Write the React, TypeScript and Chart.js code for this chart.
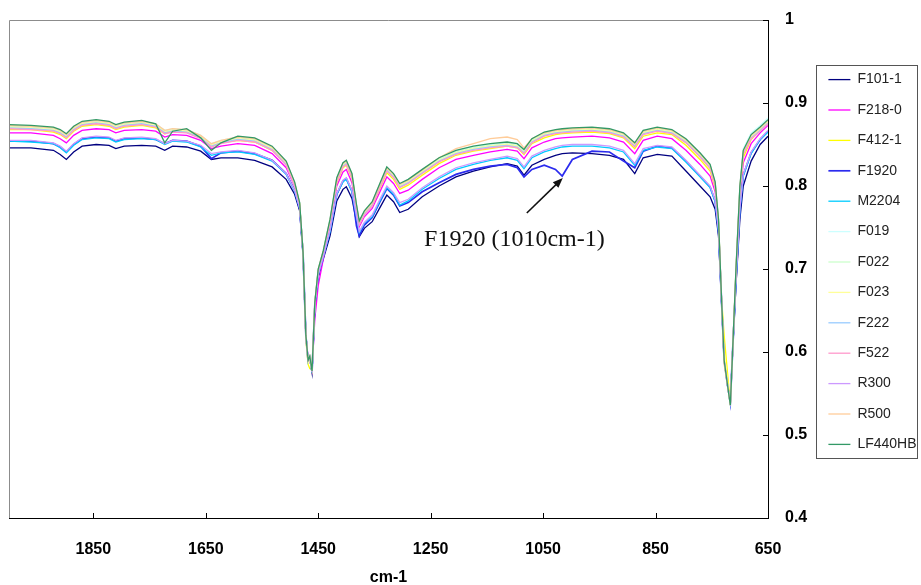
import React, { useEffect, useRef } from "react";
import { Chart, registerables } from "chart.js";

Chart.register(...registerables);

// Wavenumbers (cm-1) at which every spectrum is sampled
const WAVENUMBERS = [
  2000, 1961, 1921, 1909, 1898, 1885, 1870, 1845, 1822, 1810,
  1795, 1764, 1739, 1723, 1709, 1684, 1659, 1640, 1623, 1593,
  1563, 1532, 1507, 1492, 1483, 1477, 1472, 1468, 1465, 1461,
  1456, 1450, 1441, 1429, 1417, 1406, 1400, 1390, 1382, 1377,
  1368, 1354, 1341, 1328, 1316, 1305, 1290, 1265, 1235, 1205,
  1174, 1144, 1114, 1096, 1084, 1070, 1048, 1028, 1016, 998,
  963, 932, 907, 887, 872, 847, 821, 796, 771, 753,
  744, 738, 733, 728, 722, 717, 713, 707, 700, 694,
  680, 664, 650,
];

const F101_1 = [
  .846, .846, .843, .838, .832, .841, .848, .850, .849, .845,
  .848, .849, .848, .843, .848, .847, .842, .832, .834, .834,
  .831, .823, .808, .790, .770, .718, .620, .590, .592, .575,
  .655, .690, .712, .740, .782, .796, .799, .785, .757, .739,
  .749, .757, .773, .789, .781, .768, .772, .787, .800, .811,
  .818, .823, .827, .824, .813, .825, .832, .837, .839, .840,
  .839, .837, .832, .815, .834, .838, .836, .818, .800, .787,
  .772, .740, .665, .590, .560, .540, .600, .680, .760, .800,
  .830, .850, .860,
];
const F218_0 = [
  .864, .864, .861, .857, .852, .861, .867, .869, .868, .864,
  .867, .868, .866, .859, .862, .861, .855, .845, .848, .851,
  .849, .839, .822, .800, .776, .719, .620, .592, .590, .578,
  .640, .680, .712, .753, .800, .817, .820, .804, .771, .751,
  .763, .773, .792, .811, .803, .791, .795, .808, .822, .832,
  .837, .841, .844, .842, .833, .846, .853, .857, .858, .859,
  .860, .858, .853, .839, .855, .860, .857, .843, .826, .812,
  .793, .753, .668, .590, .560, .537, .600, .693, .786, .828,
  .851, .864, .873,
];
const F412_1 = [
  .868, .868, .865, .862, .857, .866, .872, .874, .872, .868,
  .871, .873, .870, .863, .866, .865, .858, .848, .852, .855,
  .853, .843, .826, .802, .778, .720, .615, .585, .580, .580,
  .659, .698, .720, .756, .804, .822, .825, .809, .774, .754,
  .766, .776, .796, .816, .808, .796, .801, .813, .827, .837,
  .842, .845, .848, .846, .838, .851, .858, .862, .863, .864,
  .865, .863, .858, .845, .860, .864, .862, .849, .832, .818,
  .798, .756, .669, .620, .575, .537, .600, .696, .792, .834,
  .856, .867, .876,
];
const F1920 = [
  .854, .854, .851, .847, .841, .850, .857, .859, .858, .854,
  .857, .858, .856, .851, .855, .854, .848, .833, .840, .842,
  .839, .831, .815, .795, .773, .719, .620, .589, .593, .576,
  .657, .693, .715, .746, .790, .806, .809, .794, .752, .740,
  .753, .762, .780, .797, .789, .776, .780, .793, .804, .814,
  .820, .824, .826, .822, .811, .820, .825, .820, .812, .832,
  .842, .841, .830, .822, .842, .848, .846, .830, .812, .799,
  .782, .746, .667, .590, .560, .539, .600, .686, .772, .813,
  .840, .856, .866,
];
const M2204 = [
  .854, .853, .851, .846, .840, .849, .856, .858, .857, .853,
  .856, .857, .856, .850, .854, .853, .847, .837, .840, .841,
  .838, .830, .814, .794, .773, .719, .622, .588, .593, .575,
  .656, .693, .715, .745, .790, .805, .808, .793, .763, .744,
  .755, .763, .781, .798, .790, .777, .782, .796, .809, .820,
  .826, .831, .834, .831, .821, .834, .841, .845, .847, .848,
  .848, .846, .841, .825, .843, .847, .845, .829, .811, .798,
  .781, .745, .666, .590, .560, .539, .600, .685, .771, .812,
  .839, .856, .865,
];
const F019 = [
  .873, .872, .870, .867, .862, .871, .877, .879, .877, .873,
  .876, .878, .875, .867, .869, .868, .861, .851, .855, .859,
  .857, .847, .829, .804, .780, .720, .620, .590, .595, .577,
  .660, .700, .722, .759, .809, .827, .830, .814, .777, .757,
  .769, .780, .801, .822, .814, .802, .807, .819, .833, .842,
  .847, .850, .852, .850, .843, .856, .864, .867, .868, .869,
  .870, .868, .863, .851, .866, .870, .867, .856, .839, .825,
  .804, .759, .670, .590, .560, .536, .600, .699, .799, .845,
  .864, .873, .882,
];
const F022 = [
  .872, .871, .869, .866, .861, .870, .876, .878, .876, .872,
  .875, .877, .874, .866, .868, .867, .860, .850, .854, .858,
  .856, .846, .828, .803, .779, .720, .620, .590, .595, .577,
  .660, .699, .721, .758, .808, .826, .829, .813, .776, .756,
  .768, .779, .800, .821, .813, .801, .806, .818, .832, .841,
  .846, .849, .851, .849, .842, .855, .863, .866, .867, .868,
  .869, .867, .862, .850, .865, .869, .866, .855, .838, .824,
  .803, .758, .670, .590, .560, .536, .600, .698, .798, .841,
  .860, .869, .878,
];
const F023 = [
  .871, .870, .868, .865, .860, .869, .875, .877, .875, .871,
  .874, .876, .873, .865, .867, .866, .859, .849, .853, .857,
  .855, .845, .827, .802, .778, .720, .618, .587, .590, .578,
  .659, .698, .720, .757, .807, .825, .828, .812, .775, .755,
  .767, .778, .799, .820, .812, .800, .805, .817, .831, .840,
  .845, .848, .850, .848, .841, .854, .862, .865, .866, .867,
  .868, .866, .861, .849, .864, .868, .865, .854, .837, .823,
  .802, .757, .669, .600, .565, .536, .600, .697, .797, .840,
  .859, .868, .877,
];
const F222 = [
  .870, .869, .867, .864, .859, .868, .874, .876, .874, .870,
  .873, .875, .872, .864, .866, .865, .858, .848, .852, .856,
  .854, .844, .826, .801, .777, .720, .620, .590, .594, .577,
  .659, .698, .720, .756, .806, .824, .827, .811, .774, .754,
  .766, .777, .798, .819, .811, .799, .804, .816, .830, .839,
  .844, .847, .849, .847, .840, .853, .861, .864, .865, .866,
  .867, .865, .860, .848, .863, .867, .864, .853, .836, .822,
  .801, .756, .669, .590, .560, .537, .600, .697, .796, .839,
  .858, .867, .876,
];
const F522 = [
  .869, .868, .866, .863, .858, .867, .873, .875, .873, .869,
  .872, .874, .871, .863, .865, .864, .857, .847, .851, .855,
  .853, .843, .825, .800, .776, .720, .620, .590, .594, .577,
  .659, .697, .719, .755, .805, .823, .826, .810, .773, .753,
  .765, .776, .797, .818, .810, .798, .803, .815, .829, .838,
  .843, .846, .848, .846, .839, .852, .860, .863, .864, .865,
  .866, .864, .859, .847, .862, .866, .863, .852, .835, .821,
  .800, .755, .669, .590, .560, .537, .600, .696, .795, .838,
  .857, .866, .875,
];
const R300 = [
  .855, .855, .852, .848, .842, .851, .858, .860, .859, .855,
  .858, .859, .857, .851, .855, .854, .849, .839, .841, .843,
  .840, .831, .815, .795, .773, .719, .620, .590, .593, .576,
  .657, .693, .715, .747, .791, .807, .810, .795, .764, .745,
  .756, .765, .783, .800, .792, .780, .784, .798, .811, .822,
  .828, .832, .836, .833, .823, .836, .843, .847, .849, .850,
  .850, .848, .843, .827, .845, .849, .847, .831, .813, .800,
  .783, .747, .667, .590, .560, .539, .600, .687, .773, .814,
  .841, .857, .867,
];
const R500 = [
  .873, .872, .870, .867, .862, .871, .877, .879, .877, .873,
  .876, .878, .875, .867, .869, .868, .861, .851, .855, .859,
  .857, .847, .829, .804, .779, .720, .620, .590, .595, .577,
  .660, .700, .722, .759, .809, .827, .830, .814, .777, .757,
  .769, .780, .801, .822, .814, .802, .807, .819, .834, .845,
  .851, .857, .859, .856, .846, .857, .864, .867, .868, .869,
  .870, .868, .863, .851, .866, .870, .867, .856, .839, .825,
  .804, .759, .670, .585, .560, .536, .600, .699, .799, .842,
  .861, .870, .879,
];
const LF440HB = [
  .874, .873, .871, .868, .863, .872, .878, .880, .878, .874,
  .877, .879, .875, .852, .866, .869, .858, .843, .852, .860,
  .858, .848, .830, .805, .780, .720, .620, .590, .595, .577,
  .660, .700, .722, .760, .810, .828, .831, .815, .778, .758,
  .770, .781, .802, .823, .815, .803, .808, .820, .834, .843,
  .848, .851, .853, .851, .844, .857, .865, .868, .869, .870,
  .871, .869, .864, .852, .867, .871, .868, .857, .840, .826,
  .805, .760, .670, .590, .560, .536, .600, .700, .800, .843,
  .862, .871, .880,
];

const SERIES_NAMES = [
  "F101-1", "F218-0", "F412-1", "F1920", "M2204", "F019", "F022",
  "F023", "F222", "F522", "R300", "R500", "LF440HB",
];
const SERIES_VALUES = [
  F101_1, F218_0, F412_1, F1920, M2204, F019, F022,
  F023, F222, F522, R300, R500, LF440HB,
];
const SERIES_COLORS = [
  "#000080", "#FF00FF", "#FFFF00", "#2B2BEE", "#00CCFF", "#CCFFFF", "#CCFFCC",
  "#FFFF99", "#99CCFF", "#FF99CC", "#CC99FF", "#FFCC99", "#339966",
];
const SERIES_WIDTHS = [1.3, 1.3, 1.3, 1.7, 1.3, 1.3, 1.3, 1.3, 1.3, 1.3, 1.3, 1.3, 1.3];

const X_TICKS = [1850, 1650, 1450, 1250, 1050, 850, 650];
const X_MIN = 650;
const X_MAX = 2000;
const Y_MIN = 0.4;
const Y_MAX = 1;
const Y_STEP = 0.1;
const X_TITLE = "cm-1";

// Annotation: arrow pointing to the F1920 band at 1010 cm-1
const ANNOTATION_TEXT = "F1920 (1010cm-1)";
const ANNOTATION_TEXT_AT = { x: 1101, y: 0.728 };
const ANNOTATION_ARROW_FROM = { x: 1079, y: 0.7675 };
const ANNOTATION_ARROW_TO = { x: 1015, y: 0.8096 };

const TICK_FONT = "'Liberation Sans Narrow', 'Arial Narrow', 'Liberation Sans', Arial, sans-serif";
const LEGEND_FONT_SIZE = 14;
const LEGEND_PAD = 16.4;

const framePlugin = {
  id: "frame",
  afterDatasetsDraw(chart: any) {
    const { ctx, chartArea } = chart;
    const { left, right, top, bottom } = chartArea;
    ctx.save();
    ctx.strokeStyle = "#8c8c8c";
    ctx.lineWidth = 1;
    ctx.beginPath();
    ctx.moveTo(left + 0.5, bottom);
    ctx.lineTo(left + 0.5, top + 0.5);
    ctx.lineTo(right, top + 0.5);
    ctx.stroke();
    // inward tick marks
    ctx.strokeStyle = "#000";
    ctx.beginPath();
    const xs = chart.scales.x;
    xs.ticks.forEach((t: any) => {
      const px = Math.round(xs.getPixelForValue(t.value)) + 0.5;
      ctx.moveTo(px, bottom);
      ctx.lineTo(px, bottom - 5);
    });
    const ys = chart.scales.y;
    ys.ticks.forEach((t: any) => {
      const py = Math.round(ys.getPixelForValue(t.value)) + 0.5;
      ctx.moveTo(right, py);
      ctx.lineTo(right - 5, py);
    });
    ctx.stroke();
    ctx.restore();
  },
};

const legendPlacePlugin = {
  id: "legendPlace",
  afterLayout(chart: any) {
    const lg = chart.legend;
    if (!lg) return;
    lg.top -= 7;
    lg.bottom -= 7;
  },
  afterDraw(chart: any) {
    const lg = chart.legend;
    if (!lg || !lg.columnSizes) return;
    const { ctx } = chart;
    const colH = lg.columnSizes[0].height;
    const y0 = (lg.top + LEGEND_PAD + lg.bottom - colH) / 2;
    const first = y0 + LEGEND_FONT_SIZE / 2;
    const step = LEGEND_FONT_SIZE + LEGEND_PAD;
    const last = first + (SERIES_NAMES.length - 1) * step;
    const x0 = Math.round(lg.left + LEGEND_PAD - 12) + 0.5;
    const yTop = Math.round(first - 15) + 0.5;
    const yBot = Math.round(last + 14) + 0.5;
    ctx.save();
    ctx.strokeStyle = "#555";
    ctx.lineWidth = 1;
    ctx.strokeRect(x0, yTop, 101, yBot - yTop);
    ctx.restore();
  },
};

const annotationPlugin = {
  id: "annot",
  afterDraw(chart: any) {
    const { ctx } = chart;
    const xs = chart.scales.x;
    const ys = chart.scales.y;
    const x1 = xs.getPixelForValue(ANNOTATION_ARROW_FROM.x);
    const y1 = ys.getPixelForValue(ANNOTATION_ARROW_FROM.y);
    const x2 = xs.getPixelForValue(ANNOTATION_ARROW_TO.x);
    const y2 = ys.getPixelForValue(ANNOTATION_ARROW_TO.y);
    const ang = Math.atan2(y2 - y1, x2 - x1);
    const headLen = 10;
    const headW = 4;
    ctx.save();
    ctx.strokeStyle = "#111";
    ctx.fillStyle = "#111";
    ctx.lineWidth = 1.6;
    ctx.beginPath();
    ctx.moveTo(x1, y1);
    ctx.lineTo(x2 - Math.cos(ang) * headLen * 0.8, y2 - Math.sin(ang) * headLen * 0.8);
    ctx.stroke();
    ctx.beginPath();
    ctx.moveTo(x2, y2);
    ctx.lineTo(
      x2 - Math.cos(ang) * headLen + Math.sin(ang) * headW,
      y2 - Math.sin(ang) * headLen - Math.cos(ang) * headW
    );
    ctx.lineTo(
      x2 - Math.cos(ang) * headLen - Math.sin(ang) * headW,
      y2 - Math.sin(ang) * headLen + Math.cos(ang) * headW
    );
    ctx.closePath();
    ctx.fill();
    ctx.font = "24px 'Liberation Serif', 'Times New Roman', serif";
    ctx.textAlign = "center";
    ctx.textBaseline = "alphabetic";
    ctx.fillText(
      ANNOTATION_TEXT,
      xs.getPixelForValue(ANNOTATION_TEXT_AT.x),
      ys.getPixelForValue(ANNOTATION_TEXT_AT.y)
    );
    ctx.restore();
  },
};

const whiteBg = {
  id: "whiteBg",
  beforeDraw(chart: any) {
    const { ctx, width, height } = chart;
    ctx.save();
    ctx.fillStyle = "#fff";
    ctx.fillRect(0, 0, width, height);
    ctx.restore();
  },
};

export default function App() {
  const ref = useRef<HTMLCanvasElement | null>(null);

  useEffect(() => {
    if (!ref.current) return;
    const datasets = SERIES_NAMES.map((name, i) => ({
      label: name,
      data: WAVENUMBERS.map((w, k) => ({ x: w, y: SERIES_VALUES[i][k] })),
      borderColor: SERIES_COLORS[i],
      backgroundColor: SERIES_COLORS[i],
      borderWidth: SERIES_WIDTHS[i],
      pointRadius: 0,
      tension: 0,
      fill: false,
      order: SERIES_NAMES.length - i,
    }));

    const chart = new Chart(ref.current, {
      type: "line",
      data: { datasets },
      options: {
        animation: false,
        responsive: false,
        devicePixelRatio: 1,
        layout: { padding: { left: 9, top: 20, right: 0, bottom: 0 } },
        scales: {
          x: {
            type: "linear",
            reverse: true,
            min: X_MIN,
            max: X_MAX,
            afterBuildTicks: (s: any) => {
              s.ticks = X_TICKS.map((v) => ({ value: v }));
            },
            afterFit: (s: any) => {
              s.height = 67;
              s.paddingLeft = 0;
              s.paddingRight = 0;
            },
            grid: { display: false, drawTicks: false },
            border: { display: true, color: "#000", width: 1 },
            ticks: {
              padding: 22,
              color: "#000",
              font: { family: TICK_FONT, size: 16, weight: "bold" },
              maxRotation: 0,
              autoSkip: false,
              callback: (v: any) => String(v),
            },
            title: {
              display: true,
              text: X_TITLE,
              color: "#000",
              font: { family: TICK_FONT, size: 16, weight: "bold" },
              padding: { top: 0, bottom: -2 },
            },
          },
          y: {
            type: "linear",
            position: "right",
            min: Y_MIN,
            max: Y_MAX,
            afterFit: (s: any) => {
              s.width = 44;
              s.paddingTop = 0;
              s.paddingBottom = 0;
            },
            grid: { display: false, drawTicks: false },
            border: { display: true, color: "#000", width: 1 },
            ticks: {
              stepSize: Y_STEP,
              padding: 17,
              color: "#000",
              font: { family: TICK_FONT, size: 16, weight: "bold" },
              callback: (v: any) => String(Math.round(v * 10) / 10),
            },
          },
        },
        plugins: {
          legend: {
            display: true,
            position: "right",
            fullSize: false,
            maxWidth: 109,
            labels: {
              usePointStyle: true,
              pointStyle: "line",
              pointStyleWidth: 22,
              boxHeight: 2,
              padding: LEGEND_PAD,
              color: "#222",
              font: { family: "'Liberation Sans', Arial, sans-serif", size: LEGEND_FONT_SIZE },
              sort: (a: any, b: any) => a.datasetIndex - b.datasetIndex,
            },
          },
          tooltip: { enabled: false },
        },
      },
      plugins: [whiteBg, framePlugin, legendPlacePlugin, annotationPlugin],
    } as any);

    return () => chart.destroy();
  }, []);

  return (
    <div style={{ position: "fixed", left: 0, top: 0, width: 921, height: 585, background: "#fff" }}>
      <canvas ref={ref} width={921} height={585} style={{ display: "block" }} />
    </div>
  );
}
